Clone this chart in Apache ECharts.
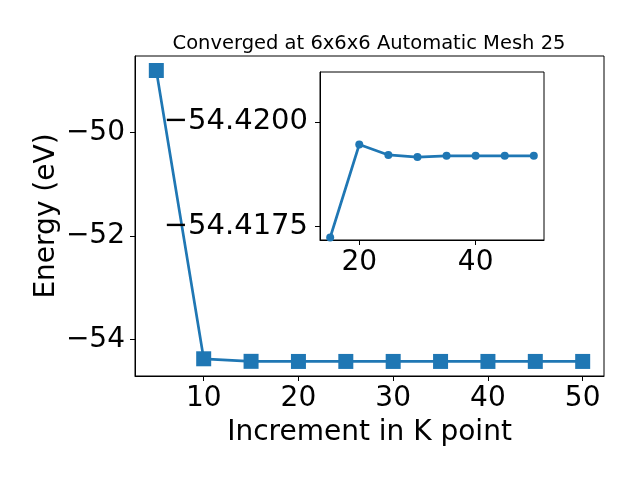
<!DOCTYPE html>
<html>
<head>
<meta charset="utf-8">
<script src="https://cdn.jsdelivr.net/npm/echarts@6/dist/echarts.min.js"></script>
<style>html,body{margin:0;padding:0;background:#fff}#c{width:640px;height:480px}</style>
</head>
<body>
<div id="c"></div>
<script>
const kpoints = [5, 10, 15, 20, 25, 30, 35, 40, 45, 50];
const energies = [-48.81, -54.368, -54.41724, -54.41946, -54.41921, -54.41916, -54.41919, -54.41919, -54.41919, -54.41919];
const mainXTicks = [10, 20, 30, 40, 50];
const mainYTicks = [-54, -52, -50];
const insetXTicks = [20, 40];
const insetYTicks = [-54.42, -54.4175];

const insetK = kpoints.slice(2);
const insetE = energies.slice(2);

const font = 'DejaVu Sans';
const fmt = (d) => (v) => (v < 0 ? '\u2212' : '') + Math.abs(v).toFixed(d);
const blue = '#1f77b4';

const chart = echarts.init(document.getElementById('c'), null, {renderer: 'canvas'});
chart.setOption({
  animation: false,
  backgroundColor: '#fff',
  title: {
    text: 'Converged at 6x6x6 Automatic Mesh 25',
    left: 364, top: 29, textAlign: 'center',
    textStyle: {fontFamily: font, fontSize: 19.5, fontWeight: 'normal', color: '#000'}
  },
  grid: [
    {left: 135, top: 56, width: 469, height: 320, show: true, borderColor: '#000', borderWidth: 1, backgroundColor: 'transparent'},
    {left: 320, top: 72, width: 224, height: 168, show: true, borderColor: '#000', borderWidth: 1, backgroundColor: '#fff', z: 5}
  ],
  xAxis: [
    {
      type: 'value', gridIndex: 0, min: 2.75, max: 52.25,
      name: 'Increment in K point', nameLocation: 'middle', nameGap: 43, nameMoveOverlap: false,
      nameTextStyle: {fontFamily: font, fontSize: 28, color: '#000'},
      axisLine: {show: true, lineStyle: {color: '#000', width: 1}},
      axisTick: {show: true, length: 5, customValues: mainXTicks, lineStyle: {color: '#000'}},
      axisLabel: {show: true, customValues: mainXTicks, margin: 9, fontFamily: font, fontSize: 28, color: '#000'},
      splitLine: {show: false}
    },
    {
      type: 'value', gridIndex: 1, min: 13.25, max: 51.75, z: 6,
      axisLine: {show: true, lineStyle: {color: '#000', width: 1}},
      axisTick: {show: true, length: 5, customValues: insetXTicks, lineStyle: {color: '#000'}},
      axisLabel: {show: true, customValues: insetXTicks, margin: 9, fontFamily: font, fontSize: 28, color: '#000'},
      splitLine: {show: false}
    }
  ],
  yAxis: [
    {
      type: 'value', gridIndex: 0, min: -54.70, max: -48.53,
      name: 'Energy (eV)', nameLocation: 'middle', nameGap: 74, nameMoveOverlap: false,
      nameTextStyle: {fontFamily: font, fontSize: 28, color: '#000'},
      axisLine: {show: true, lineStyle: {color: '#000', width: 1}},
      axisTick: {show: true, length: 5, customValues: mainYTicks, lineStyle: {color: '#000'}},
      axisLabel: {show: true, customValues: mainYTicks, margin: 10, fontFamily: font, fontSize: 28, color: '#000', formatter: fmt(0)},
      splitLine: {show: false}
    },
    {
      type: 'value', gridIndex: 1, inverse: true, min: -54.42119, max: -54.41718, z: 6,
      axisLine: {show: true, lineStyle: {color: '#000', width: 1}},
      axisTick: {show: true, length: 5, customValues: insetYTicks, lineStyle: {color: '#000'}},
      axisLabel: {show: true, customValues: insetYTicks, margin: 12, fontFamily: font, fontSize: 29, color: '#000', formatter: fmt(4)},
      splitLine: {show: false}
    }
  ],
  series: [
    {
      type: 'line', xAxisIndex: 0, yAxisIndex: 0,
      data: kpoints.map((k, i) => [k, energies[i]]),
      symbol: 'rect', symbolSize: 15, showAllSymbol: true,
      lineStyle: {color: blue, width: 2.7}, itemStyle: {color: blue}, z: 2
    },
    {
      type: 'line', xAxisIndex: 1, yAxisIndex: 1,
      data: insetK.map((k, i) => [k, insetE[i]]),
      symbol: 'circle', symbolSize: 8, showAllSymbol: true,
      lineStyle: {color: blue, width: 2.7}, itemStyle: {color: blue}, z: 10
    }
  ]
});
</script>
</body>
</html>
